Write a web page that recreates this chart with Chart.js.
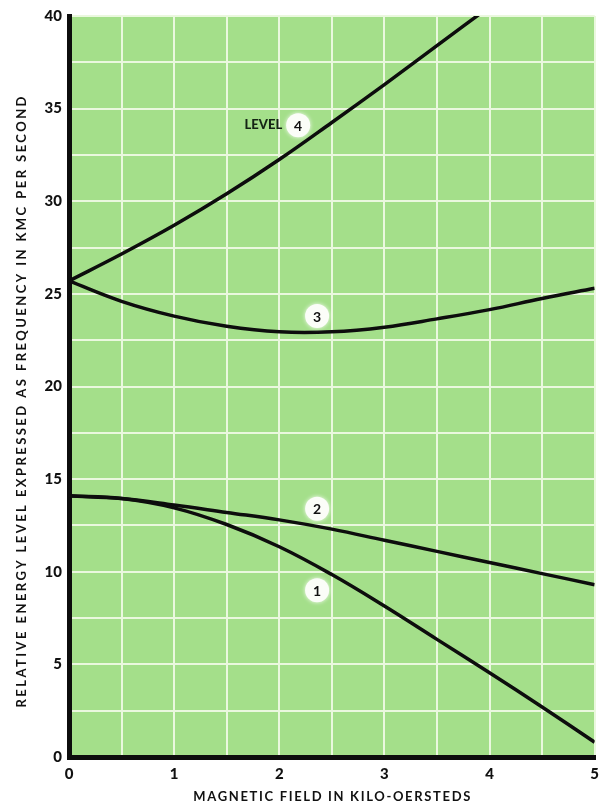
<!DOCTYPE html>
<html>
<head>
<meta charset="utf-8">
<script src="https://cdn.jsdelivr.net/npm/chart.js@4/dist/chart.umd.min.js"></script>
<style>
  html, body { margin: 0; padding: 0; background: #fff; }
  #wrap { width: 607px; height: 805px; }
</style>
</head>
<body>
<div id="wrap"><canvas id="chart"></canvas></div>
<script>
// Data
const field = [0, 0.5, 1, 1.5, 2, 2.5, 3, 3.5, 4, 4.5, 5];
const level1 = [14.1, 13.95, 13.45, 12.55, 11.35, 9.85, 8.15, 6.35, 4.55, 2.7, 0.8];
const level2 = [14.1, 13.95, 13.6, 13.2, 12.8, 12.3, 11.7, 11.1, 10.5, 9.9, 9.3];
const level3 = [25.7, 24.6, 23.8, 23.25, 22.95, 22.95, 23.2, 23.65, 24.15, 24.75, 25.3];
const level4 = [25.7, 27.15, 28.7, 30.4, 32.25, 34.25, 36.3, 38.4, 40.5];
const levelNames = ["1", "2", "3", "4"];
const xLabels = [0, 1, 2, 3, 4, 5];
const yLabels = [0, 5, 10, 15, 20, 25, 30, 35, 40];

const xTitle = "MAGNETIC FIELD IN KILO-OERSTEDS";
const yTitle = "RELATIVE ENERGY LEVEL EXPRESSED AS FREQUENCY IN KMC PER SECOND";

// where the circled numbers sit (data coords)
const markerSpots = [[2.36, 9.0], [2.36, 13.4], [2.36, 23.8], [2.18, 34.1]];

function toPoints(ys) {
  return ys.map((y, i) => ({ x: field[i], y: y }));
}

const series = [level1, level2, level3, level4];

// background paper, circled labels and axis titles
const paper = {
  id: "paper",
  beforeDraw(chart) {
    const { ctx, chartArea: a } = chart;
    ctx.save();
    ctx.fillStyle = "#a4df8a";
    ctx.fillRect(a.left, a.top, a.right - a.left, a.bottom - a.top);
    ctx.restore();
  },
  afterDatasetsDraw(chart) {
    const ctx = chart.ctx;
    const xs = chart.scales.x, ys = chart.scales.y;
    ctx.save();
    markerSpots.forEach((p, i) => {
      const cx = xs.getPixelForValue(p[0]);
      const cy = ys.getPixelForValue(p[1]);
      ctx.beginPath();
      ctx.shadowColor = "rgba(255,255,255,0.9)";
      ctx.shadowBlur = 4;
      ctx.fillStyle = "#fbfdf8";
      ctx.arc(cx, cy, 12, 0, Math.PI * 2);
      ctx.fill();
      ctx.shadowBlur = 0;
      ctx.fillStyle = "#111";
      ctx.font = "bold 14px Lato";
      ctx.textAlign = "center";
      ctx.textBaseline = "middle";
      ctx.fillText(levelNames[i], cx, cy + 1);
      if (i === 3) {
        ctx.font = "900 13px Lato";
        ctx.textAlign = "right";
        ctx.fillStyle = "#142414";
        ctx.fillText("LEVEL", cx - 16, cy);
      }
    });
    ctx.restore();
  },
  afterDraw(chart) {
    const ctx = chart.ctx;
    const a = chart.chartArea;
    ctx.save();
    ctx.fillStyle = "#111";
    ctx.font = "bold 13px Lato";
    ctx.textAlign = "left";
    ctx.textBaseline = "middle";
    // x title
    let w = ctx.measureText(xTitle).width;
    let target = 277;
    ctx.letterSpacing = ((target - w) / (xTitle.length - 1)) + "px";
    ctx.fillText(xTitle, (a.left + a.right) / 2 - target / 2, 797);
    // y title
    ctx.letterSpacing = "0px";
    w = ctx.measureText(yTitle).width;
    target = 611;
    ctx.letterSpacing = ((target - w) / (yTitle.length - 1)) + "px";
    ctx.translate(22, 402);
    ctx.rotate(-Math.PI / 2);
    ctx.fillText(yTitle, -target / 2, 0);
    ctx.restore();
  }
};

const ctx = document.getElementById("chart").getContext("2d");
new Chart(ctx, {
  type: "line",
  data: {
    datasets: series.map((s, i) => ({
      label: "Level " + levelNames[i],
      data: toPoints(s),
      borderColor: "#0d0d0d",
      borderWidth: 3.5,
      pointRadius: 0,
      tension: 0.4,
      fill: false,
      clip: 0
    }))
  },
  options: {
    responsive: true,
    maintainAspectRatio: false,
    animation: false,
    layout: { padding: { top: 14, right: 10, left: 0, bottom: 0 } },
    plugins: {
      legend: { display: false },
      tooltip: { enabled: false }
    },
    scales: {
      x: {
        type: "linear",
        min: 0,
        max: 5,
        afterFit: (s) => { s.height = 48; },
        ticks: {
          stepSize: 0.5,
          autoSkip: false,
          maxRotation: 0,
          padding: 8,
          color: "#111",
          font: { family: "Lato", size: 15, weight: "900" },
          callback: (v) => xLabels.includes(v) ? v : ""
        },
        grid: { color: "#eaf8de", lineWidth: 2, drawTicks: false },
        border: { display: true, color: "#0d0d0d", width: 5 }
      },
      y: {
        min: 0,
        max: 40,
        afterFit: (s) => { s.width = 69; },
        ticks: {
          stepSize: 2.5,
          autoSkip: false,
          padding: 7,
          color: "#111",
          font: { family: "Lato", size: 15, weight: "900" },
          callback: (v) => yLabels.includes(v) ? v : ""
        },
        grid: { color: "#eaf8de", lineWidth: 2, drawTicks: false },
        border: { display: true, color: "#0d0d0d", width: 5 }
      }
    }
  },
  plugins: [paper]
});
</script>
</body>
</html>
